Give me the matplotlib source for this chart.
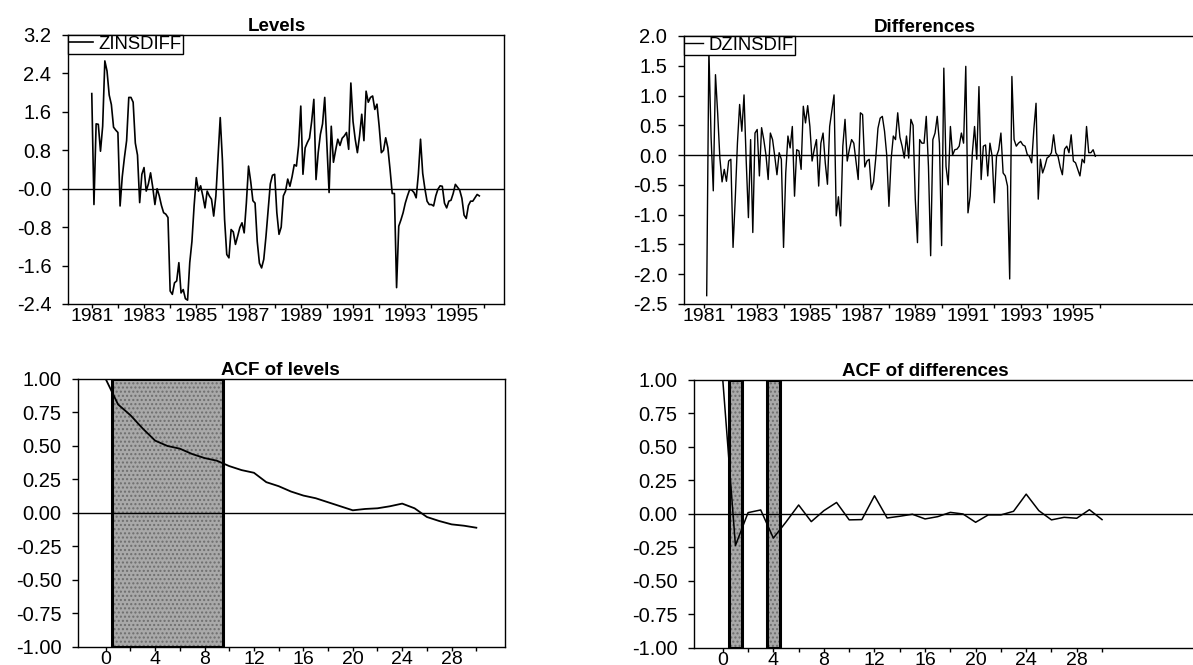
import numpy as np
import matplotlib
matplotlib.use("Agg")
import matplotlib.pyplot as plt
from matplotlib.patches import Rectangle

plt.rcParams["font.family"] = ["Liberation Sans", "DejaVu Sans"]

# monthly interest rate differential, Jan 1981 - Nov 1995
levels = [
    1.98, -0.33, 1.35, 1.34, 0.78, 1.30, 2.66, 2.45, 1.95, 1.75,
    1.28, 1.22, 1.17, -0.36, 0.25, 0.65, 1.00, 1.90, 1.90, 1.80,
    0.95, 0.70, -0.29, 0.30, 0.44, -0.05, 0.10, 0.33, 0.03, -0.33,
    0.00, -0.15, -0.35, -0.50, -0.53, -0.60, -2.13, -2.20, -1.96, -1.92,
    -1.54, -2.17, -2.10, -2.29, -2.32, -1.54, -1.10, -0.36, 0.23, -0.05,
    0.06, -0.15, -0.40, -0.05, -0.15, -0.22, -0.57, -0.15, 0.68, 1.48,
    0.60, -0.64, -1.37, -1.44, -0.85, -0.90, -1.16, -0.99, -0.81, -0.71,
    -0.92, -0.30, 0.47, 0.15, -0.25, -0.30, -1.10, -1.55, -1.65, -1.47,
    -1.00, -0.45, 0.10, 0.28, 0.30, -0.50, -0.95, -0.80, -0.15, -0.05,
    0.20, 0.05, 0.25, 0.50, 0.47, 0.90, 1.72, 0.30, 0.85, 0.96,
    1.05, 1.40, 1.86, 0.19, 0.75, 1.13, 1.35, 1.90, 0.90, -0.08,
    1.30, 0.55, 0.80, 1.03, 0.90, 1.05, 1.10, 1.17, 0.82, 2.20,
    1.40, 1.03, 0.75, 1.10, 1.55, 1.00, 2.03, 1.80, 1.90, 1.93,
    1.65, 1.76, 1.30, 0.75, 0.80, 1.06, 0.85, 0.40, -0.10, -0.10,
    -2.06, -0.78, -0.65, -0.50, -0.30, -0.15, -0.02, -0.03, -0.08, -0.19,
    0.30, 1.03, 0.32, 0.00, -0.26, -0.33, -0.33, -0.36, -0.15, -0.01,
    0.06, 0.05, -0.30, -0.40, -0.26, -0.24, -0.10, 0.09, 0.03, -0.03,
    -0.20, -0.55, -0.62, -0.35, -0.26, -0.26, -0.19, -0.12, -0.15,
]

# first differences, Feb 1981 - Nov 1995
diffs = [
    -2.36, 1.77, 0.30, -0.60, 1.35, 0.70, -0.05, -0.45, -0.24, -0.44,
    -0.10, -0.07, -1.55, -0.74, 0.20, 0.85, 0.40, 1.01, -0.10, -1.05,
    0.26, -1.30, 0.37, 0.43, -0.35, 0.46, 0.26, 0.00, -0.41, 0.37,
    0.26, -0.02, -0.33, 0.04, -0.07, -1.55, -0.30, 0.32, 0.12, 0.48,
    -0.69, 0.09, 0.07, -0.24, 0.82, 0.54, 0.83, 0.48, -0.10, 0.10,
    0.26, -0.52, 0.20, 0.37, -0.13, -0.49, 0.48, 0.75, 1.01, -1.02,
    -0.70, -1.19, 0.15, 0.60, -0.10, 0.10, 0.26, 0.20, -0.10, -0.41,
    0.71, 0.68, -0.20, -0.10, -0.07, -0.58, -0.45, -0.05, 0.45, 0.62,
    0.65, 0.40, 0.00, -0.86, -0.07, 0.32, 0.26, 0.71, 0.30, 0.15,
    -0.05, 0.32, -0.05, 0.60, 0.50, -0.74, -1.47, 0.26, 0.20, 0.20,
    0.65, -0.19, -1.69, 0.26, 0.37, 0.65, 0.20, -1.52, 1.46, -0.19,
    -0.50, 0.48, 0.00, 0.09, 0.10, 0.15, 0.37, 0.20, 1.49, -0.97,
    -0.69, 0.04, 0.48, -0.07, 1.15, -0.41, 0.15, 0.17, -0.35, 0.20,
    -0.02, -0.80, -0.02, 0.09, 0.37, -0.30, -0.35, -0.52, -2.08, 1.32,
    0.26, 0.15, 0.20, 0.23, 0.17, 0.15, 0.01, -0.02, -0.13, 0.43,
    0.87, -0.74, -0.07, -0.30, -0.19, -0.05, -0.02, 0.04, 0.34, 0.04,
    -0.02, -0.20, -0.33, 0.10, 0.15, 0.04, 0.34, -0.10, -0.13, -0.24,
    -0.35, -0.07, -0.13, 0.48, 0.04, 0.04, 0.09, -0.02,
]

# autocorrelations, lags 0..30
acf_levels = [
    1.00, 0.81, 0.73, 0.63, 0.54, 0.50, 0.48, 0.44, 0.41, 0.39,
    0.35, 0.32, 0.30, 0.23, 0.20, 0.16, 0.13, 0.11, 0.08, 0.05,
    0.02, 0.03, 0.035, 0.05, 0.07, 0.035, -0.03, -0.06, -0.085, -0.095,
    -0.11,
]
acf_diffs = [
    1.00, -0.235, 0.01, 0.03, -0.18, -0.06, 0.067, -0.057, 0.025, 0.086,
    -0.044, -0.042, 0.136, -0.03, -0.017, -0.002, -0.037, -0.02, 0.012, 0.0,
    -0.062, -0.007, -0.007, 0.02, 0.148, 0.025, -0.044, -0.025, -0.032, 0.032,
    -0.042,
]
sig_lags_levels = [1, 2, 3, 4, 5, 6, 7, 8, 9]
sig_lags_diffs = [1, 4]

year_ticks = [1981, 1983, 1985, 1987, 1989, 1991, 1993, 1995]
lag_ticks = [0, 4, 8, 12, 16, 20, 24, 28]
lvl_yticks = [3.2, 2.4, 1.6, 0.8, 0.0, -0.8, -1.6, -2.4]
lvl_ylabels = ["3.2", "2.4", "1.6", "0.8", "-0.0", "-0.8", "-1.6", "-2.4"]
dif_yticks = [2.0, 1.5, 1.0, 0.5, 0.0, -0.5, -1.0, -1.5, -2.0, -2.5]
acf_yticks = [1.0, 0.75, 0.5, 0.25, 0.0, -0.25, -0.5, -0.75, -1.0]

t_levels = 1981 + np.arange(len(levels)) / 12.0
t_diffs = t_levels[1:len(diffs) + 1]
lags = np.arange(len(acf_levels))

YTICK_FS = 14.5
XTICK_FS = 14
TITLE_FS = 13.5

fig = plt.figure(figsize=(11.93, 6.65), dpi=100)
ax_lvl = fig.add_axes([0.057, 0.5429, 0.3655, 0.4045])
ax_dif = fig.add_axes([0.5733, 0.5429, 0.43, 0.4030])
ax_acl = fig.add_axes([0.0654, 0.0271, 0.358, 0.403])
ax_acd = fig.add_axes([0.5817, 0.0256, 0.43, 0.403])


def style(ax):
    for s in ax.spines.values():
        s.set_linewidth(1.0)
    ax.tick_params(axis="y", direction="out", length=4, width=1,
                   labelsize=YTICK_FS, pad=8)
    ax.tick_params(axis="x", direction="out", length=3, width=1,
                   labelsize=XTICK_FS, pad=0)
    ax.tick_params(which="minor", direction="out", length=3, width=1)
    ax.axhline(0, color="black", lw=1.0, zorder=1)


def title(ax, text, xpos):
    ax.set_title(text, fontsize=TITLE_FS, fontweight="bold", x=xpos, pad=1)


def shade_lags(ax, sig):
    # group consecutive significant lags into one block
    groups, cur = [], [sig[0]]
    for lag in sig[1:]:
        if lag == cur[-1] + 1:
            cur.append(lag)
        else:
            groups.append(cur)
            cur = [lag]
    groups.append(cur)
    for g in groups:
        x0, w = g[0] - 0.5, len(g)
        ax.add_patch(Rectangle((x0, -1), w, 2, facecolor="#a9a9a9",
                               edgecolor="#6e6e6e", hatch="....", lw=0, zorder=0))
        ax.add_patch(Rectangle((x0, -1), w, 2, facecolor="none",
                               edgecolor="black", lw=2.2, zorder=3))


def legend(ax, hl):
    leg = ax.legend(loc="upper left", borderaxespad=0, fancybox=False,
                    fontsize=13.3, handlelength=hl, handletextpad=0.3,
                    borderpad=0.05, framealpha=1)
    leg.get_frame().set_edgecolor("black")
    leg.get_frame().set_linewidth(1.0)


# Levels
ax = ax_lvl
ax.plot(t_levels, levels, color="black", lw=1.2, label="ZINSDIFF", zorder=2)
ax.set_xlim(1980.09, 1996.78)
ax.set_ylim(-2.4, 3.2)
ax.set_yticks(lvl_yticks)
ax.set_yticklabels(lvl_ylabels)
ax.set_xticks(year_ticks)
ax.set_xticks([y + 1 for y in year_ticks], minor=True)
style(ax)
title(ax, "Levels", 0.479)
legend(ax, 1.3)

# Differences
ax = ax_dif
ax.plot(t_diffs, diffs, color="black", lw=1.0, label="DZINSDIF", zorder=2)
ax.set_xlim(1980.22, 1999.69)
ax.set_ylim(-2.5, 2.0)
ax.set_yticks(dif_yticks)
ax.set_yticklabels([f"{v:.1f}" for v in dif_yticks])
ax.set_xticks(year_ticks)
ax.set_xticks([y + 1 for y in year_ticks], minor=True)
style(ax)
title(ax, "Differences", 0.47)
legend(ax, 1.0)

# ACF of levels
ax = ax_acl
shade_lags(ax, sig_lags_levels)
ax.plot(lags, acf_levels, color="black", lw=1.3, zorder=4)
ax.set_xlim(-2.24, 32.33)
ax.set_ylim(-1, 1)
ax.set_yticks(acf_yticks)
ax.set_yticklabels([f"{v:.2f}" for v in acf_yticks])
ax.set_xticks(lag_ticks)
ax.set_xticks([l + 2 for l in lag_ticks], minor=True)
style(ax)
title(ax, "ACF of levels", 0.473)

# ACF of differences
ax = ax_acd
shade_lags(ax, sig_lags_diffs)
ax.plot(lags, acf_diffs, color="black", lw=1.1, zorder=4)
ax.set_xlim(-2.28, 38.3)
ax.set_ylim(-1, 1)
ax.set_yticks(acf_yticks)
ax.set_yticklabels([f"{v:.2f}" for v in acf_yticks])
ax.set_xticks(lag_ticks)
ax.set_xticks([l + 2 for l in lag_ticks], minor=True)
style(ax)
title(ax, "ACF of differences", 0.451)

fig.savefig("out.png", dpi=100)
